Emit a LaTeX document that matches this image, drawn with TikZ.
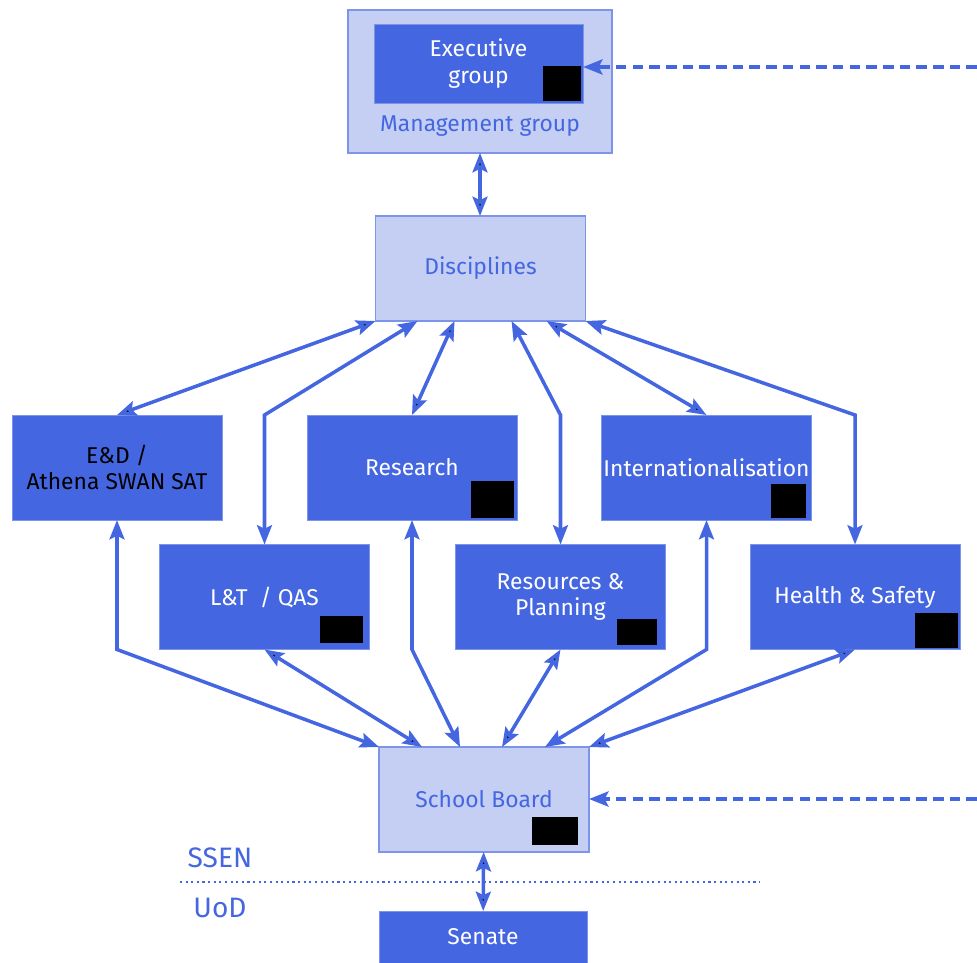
\documentclass[tikz,border=0pt]{standalone}
\usepackage{fontspec}
\setmainfont{Fira Sans}
\usetikzlibrary{arrows.meta,calc}
\definecolor{ssblue}{RGB}{68,102,224}
\definecolor{sslight}{RGB}{197,207,243}
\definecolor{ssedge}{RGB}{125,148,235}
\begin{document}
\begin{tikzpicture}
        [x=0.02cm,y=-0.02cm,>={Stealth[length=11pt,width=8.5pt,inset=2pt]},
         every node/.style={inner sep=0pt,outer sep=0pt,align=center,font=\fontsize{13}{15}\selectfont},
         darkbox/.style={rectangle,fill=ssblue,draw=ssedge,line width=0.5pt,text=white,minimum width=4.2cm,minimum height=2.1cm},
         lightbox/.style={rectangle,fill=sslight,draw=ssedge,line width=0.8pt,text=ssblue,minimum width=4.2cm,minimum height=2.1cm},
         sidelabel/.style={text=ssblue,font=\fontsize{16}{18}\selectfont},
         link/.style={draw=ssblue,line width=2pt},
         feed/.style={draw=ssblue,line width=2.2pt,dash pattern=on 6pt off 3.5pt,->},
         blackout/.style={fill=black}]
        \useasboundingbox (0,0) rectangle (977,963);
        %Top
        \node[lightbox,minimum width=5.28cm,minimum height=2.86cm] (MG) at (480,81.5) {};
        \node[darkbox,minimum width=4.18cm,minimum height=1.58cm] (EXEC) at (478.5,63.5) {Executive\\group};
        \node[text=ssblue] (MGLABEL) at (480,126) {Management group};
        \node[lightbox] (DISC) at (480.5,268.5) {Disciplines};
        %Middle rows
        \node[darkbox,text=black] (ED) at (117,467.5) {E\&D /\\Athena SWAN SAT};
        \node[darkbox] (RES) at (412,467.5) {Research};
        \node[darkbox] (INTL) at (706.5,467.5) {Internationalisation};
        \node[darkbox] (LT) at (264.5,597) {L\&T~~/ QAS};
        \node[darkbox] (RP) at (560.5,597) {Resources \&\\Planning};
        \node[darkbox] (HS) at (855,597) {Health \& Safety};
        %Bottom
        \node[lightbox] (BOARD) at (484,799.5) {School Board};
        \node[darkbox,minimum width=4.16cm,minimum height=1.04cm] (SENATE) at (483,937) {Senate};
        \node[sidelabel] (SSEN) at (220,858) {SSEN};
        \node[sidelabel] (UOD) at (220,908) {UoD};
        \coordinate (SEPL) at (180,882);
        \coordinate (SEPR) at (760,882);
        \coordinate (FEEDTOP) at (977,67);
        \coordinate (FEEDLOW) at (977,799);

        %Redacted marks
        \fill[blackout] ($(EXEC.south east)+(-2,-2)$) rectangle ++(-38,-35);
        \fill[blackout] ($(RES.south east)+(-3,-2)$) rectangle ++(-43,-37);
        \fill[blackout] ($(INTL.south east)+(-5,-2)$) rectangle ++(-35,-34);
        \fill[blackout] ($(LT.south east)+(-6,-6)$) rectangle ++(-43,-27);
        \fill[blackout] ($(RP.south east)+(-8,-4)$) rectangle ++(-40,-26);
        \fill[blackout] ($(HS.south east)+(-2,-1)$) rectangle ++(-43,-35);
        \fill[blackout] ($(BOARD.south east)+(-11,-7)$) rectangle ++(-46,-28);

        \draw[link, every edge/.append style={<->}]
        (MG)	    edge		($(DISC.north)+(-0.5,0)$)
        (DISC.south west)	    edge		(ED.north)
        ($(DISC.south west)+(79,0)$)	    edge		(RES.north)
        ($(DISC.south west)+(171,0)$)	    edge		(INTL.north)
        (LT.south)	    edge		($(BOARD.north west)+(43,0)$)
        (RP.south)	    edge		($(BOARD.north west)+(123,0)$)
        (HS.south)	    edge		(BOARD.north east)
        (BOARD)	    edge		(SENATE);

        \draw[link,<->] ($(DISC.south west)+(42,0)$) -- (LT.north |- ED.north) -- (LT.north);
        \draw[link,<->] ($(DISC.south west)+(136,0)$) -- (RP.north |- RES.north) -- (RP.north);
        \draw[link,<->] (DISC.south east) -- (HS.north |- INTL.north) -- (HS.north);
        \draw[link,<->] (ED.south) -- (ED.south |- LT.south) -- (BOARD.north west);
        \draw[link,<->] (RES.south) -- (RES.south |- LT.south) -- ($(BOARD.north west)+(81,0)$);
        \draw[link,<->] (INTL.south) -- (INTL.south |- RP.south) -- ($(BOARD.north west)+(166,0)$);

        \draw[feed] (FEEDTOP) -- (FEEDTOP -| EXEC.east);
        \draw[feed] (FEEDLOW) -- (FEEDLOW -| BOARD.east);
        \draw[ssblue,line width=1.2pt,dotted] (SEPL) -- (SEPR);
    \end{tikzpicture}
\end{document}
